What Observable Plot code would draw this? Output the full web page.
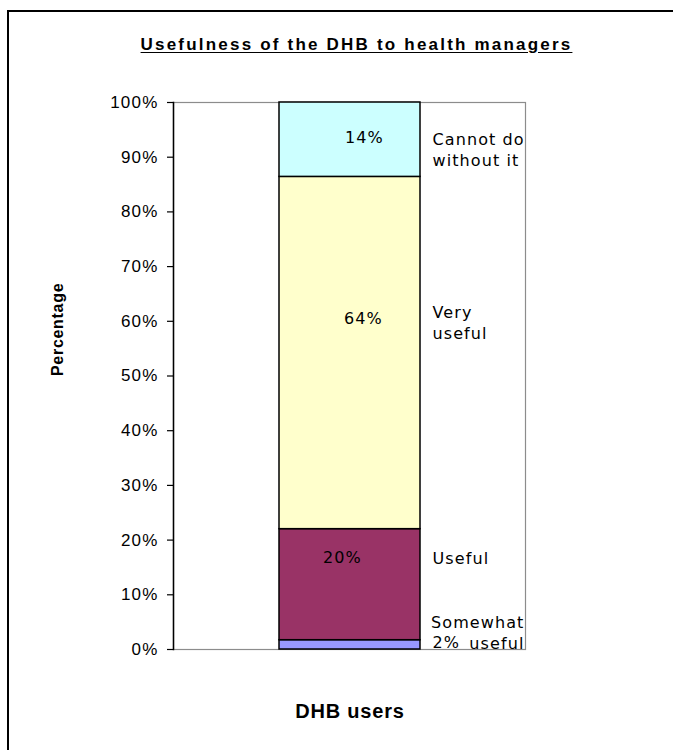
<!DOCTYPE html>
<html>
<head>
<meta charset="utf-8">
<script src="https://cdn.jsdelivr.net/npm/d3@7"></script>
<script src="https://cdn.jsdelivr.net/npm/@observablehq/plot@0.6"></script>
<style>
  html, body { margin: 0; padding: 0; background: #fff; overflow: hidden; }
  #wrap { position: relative; width: 673px; height: 750px; overflow: hidden; }
  #btop { position: absolute; left: 7px; top: 10px; width: 666px; height: 2px; background: #000; }
  #bleft { position: absolute; left: 7px; top: 10px; width: 2px; height: 740px; background: #000; }
  #title { position: absolute; left: 0; width: 713px; top: 35px; text-align: center;
           font-family: "Liberation Sans", Arial, sans-serif; font-weight: bold; font-size: 17px;
           letter-spacing: 2.2px; text-decoration: underline; text-underline-offset: 2px; }
  #chart { position: absolute; left: 0; top: 0; }
</style>
</head>
<body>
<div id="wrap">
  <div id="chart"></div>
  <div id="btop"></div>
  <div id="bleft"></div>
  <div id="title"></div>
</div>
<script>
// ---- data ----
const title = "Usefulness of the DHB to health managers";
const yTitle = "Percentage";
const categories = ["DHB users"];
const series = ["Somewhat useful", "Useful", "Very useful", "Cannot do without it"];
const seriesLabels = ["Somewhat\nuseful", "Useful", "Very\nuseful", "Cannot do\nwithout it"];
const values = [1.7, 20.3, 64.4, 13.6];
const colors = ["#9999FF", "#993366", "#FFFFCC", "#CCFFFF"];
const yTicks = [0, 10, 20, 30, 40, 50, 60, 70, 80, 90, 100];
const yTickLabels = ["0%", "10%", "20%", "30%", "40%", "50%", "60%", "70%", "80%", "90%", "100%"];

// ---- layout (offsets of labels relative to segment middle) ----
const valueOffsets = [
  {dx: 82.5, dy: -2.4, anchor: "start"},
  {dx: -7.5, dy: -27, anchor: "middle"},
  {dx: 13.5, dy: -34.5, anchor: "middle"},
  {dx: 14.5, dy: -1.7, anchor: "middle"}
];
const nameOffsets = [
  {dx: 174.5, dy: -13.4, anchor: "end"},
  {dx: 82.5, dy: -27, anchor: "start"},
  {dx: 82.5, dy: -31.5, anchor: "start"},
  {dx: 82.5, dy: 8.8, anchor: "start"}
];

const data = series.map((s, i) => ({category: categories[0], series: s, value: values[i], name: seriesLabels[i]}));

document.getElementById("title").textContent = title;

const labelFont = "DejaVu Sans";
const valueMarks = valueOffsets.map((o, i) =>
  Plot.text(data, Plot.stackY({
    x: "category", y: "value",
    text: (d, j) => j === i ? Math.round(d.value) + "%" : null,
    dx: o.dx, dy: o.dy, textAnchor: o.anchor,
    fontFamily: labelFont, fontSize: 16, fill: "black"
  })));
const nameMarks = nameOffsets.map((o, i) =>
  Plot.text(data, Plot.stackY({
    x: "category", y: "value",
    text: (d, j) => j === i ? d.name : null,
    dx: o.dx, dy: o.dy, textAnchor: o.anchor, lineHeight: 1.31,
    fontFamily: labelFont, fontSize: 16, fill: "black"
  })));

const chart = Plot.plot({
  width: 673,
  height: 750,
  marginLeft: 173,
  marginRight: 148,
  marginTop: 102,
  marginBottom: 101,
  style: {fontFamily: "Liberation Sans, Arial, sans-serif", fontSize: "17px", background: "transparent", color: "black"},
  x: {domain: categories, padding: 0.4286},
  y: {domain: [0, 100]},
  color: {domain: series, range: colors},
  marks: [
    Plot.frame({stroke: "#8c8c8c", strokeWidth: 1.2}),
    Plot.barY(data, {x: "category", y: "value", fill: "series", stroke: "black", strokeWidth: 1.5, inset: 0}),
    ...valueMarks,
    ...nameMarks,
    Plot.frame({anchor: "left", stroke: "black", strokeWidth: 1.5}),
    Plot.axisY({ticks: yTicks, tickFormat: (d, i) => yTickLabels[yTicks.indexOf(d)], tickSize: 6, tickPadding: 9,
                fontSize: 17, label: null, stroke: "black", strokeWidth: 1.2}),
    Plot.axisX({tickSize: 0, tickPadding: 54, fontSize: 20, fontWeight: "bold", label: null}),
    Plot.text([yTitle], {frameAnchor: "left", dx: -116, rotate: -90, text: d => d, fontWeight: "bold", fontSize: 16,
                         fontFamily: "Liberation Sans, Arial, sans-serif"})
  ]
});

document.getElementById("chart").appendChild(chart);
const svg = d3.select(chart);
svg.selectAll(`g[font-family="${labelFont}"]`).style("letter-spacing", "1.1px");
svg.selectAll('g[aria-label="y-axis tick label"]').style("letter-spacing", "1.2px");
svg.selectAll('g[aria-label="x-axis tick label"]').style("letter-spacing", "0.8px");
svg.selectAll("text").filter(function() { return this.textContent === yTitle; }).style("letter-spacing", "0.7px");
</script>
</body>
</html>
